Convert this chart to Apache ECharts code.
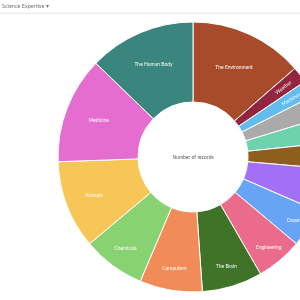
<!DOCTYPE html>
<html>
<head>
<meta charset="utf-8">
<script src="https://cdn.jsdelivr.net/npm/echarts@6/dist/echarts.min.js"></script>
<style>
  html, body { margin: 0; padding: 0; background: #fff; }
  #chart { width: 300px; height: 300px; }
</style>
</head>
<body>
<div id="chart"></div>
<script>
// data (clockwise from 12 o'clock)
var categories = ['The Environment', 'Weather', 'Machines', 'Space', 'Plants', 'Energy', 'Physics',
  'Oceans', 'Engineering', 'The Brain', 'Computers', 'Chemicals', 'Animals', 'Medicine', 'The Human Body'];
var records = [98, 14, 14, 20, 22, 22, 37, 33, 40, 52, 54, 54, 76, 92, 92];
// slices whose label falls outside the frame in the picture
var unlabelled = ['Space', 'Plants', 'Energy', 'Physics'];

var colors = ['#a84b2b', '#92253f', '#62bdee', '#aaaaaa', '#6ed2af', '#8f5e1e', '#a370f5',
  '#68a4f5', '#eb6b8c', '#3f7328', '#f18b57', '#89d272', '#f7c657', '#e46dcf', '#3a857d'];

var cx = 193, cy = 157;
var total = records.reduce(function (a, b) { return a + b; }, 0);

// mid angle of each slice, degrees clockwise from 12 o'clock
var midAngle = [];
var acc = 0;
records.forEach(function (v) {
  midAngle.push((acc + v / 2) / total * 360);
  acc += v;
});

function isThin(i) { return records[i] / total * 360 < 12; }

var myChart = echarts.init(document.getElementById('chart'));

var pieData = categories.map(function (name, i) {
  var item = { name: name, value: records[i], itemStyle: { color: colors[i] } };
  // thin slices get their label turned along the radius
  if (isThin(i)) item.label = { rotate: 'radial' };
  if (unlabelled.indexOf(name) >= 0) item.label = { show: false };
  return item;
});

var option = {
  animation: false,
  title: {
    text: 'Science Expertise \u25BE',
    left: 2, top: 3, padding: 0,
    textStyle: { fontSize: 5.5, fontWeight: 'normal', color: '#777', fontFamily: 'Lato' }
  },
  graphic: [
    { type: 'rect', shape: { x: 0, y: 12.5, width: 300, height: 1.5 }, style: { fill: '#efefef' }, silent: true },
    { type: 'text', x: cx, y: cy, silent: true,
      style: { text: 'Number of records', align: 'center', verticalAlign: 'middle',
        fontSize: 5, fill: '#555', fontFamily: 'Lato' } }
  ],
  series: [{
    type: 'pie',
    center: [cx, cy],
    radius: [55, 135],
    startAngle: 90,
    clockwise: true,
    avoidLabelOverlap: false,
    itemStyle: { borderColor: '#fff', borderWidth: 1 },
    label: {
      show: true,
      position: 'inside',
      color: '#fff',
      fontSize: 5,
      fontFamily: 'Lato'
    },
    labelLine: { show: false },
    labelLayout: function (params) {
      // narrower slices carry their label further out
      var i = params.dataIndex;
      var deg = records[i] / total * 360;
      var dr = Math.min(22, 1 + 0.65 * Math.max(0, 49 - deg));
      // rotated labels take the offset in their own frame (x = outward)
      if (isThin(i)) return { dx: 16, dy: 0 };
      var a = midAngle[i] * Math.PI / 180;
      return { dx: Math.sin(a) * dr, dy: -Math.cos(a) * dr };
    },
    emphasis: { disabled: true },
    data: pieData
  }]
};

myChart.setOption(option);
</script>
</body>
</html>
